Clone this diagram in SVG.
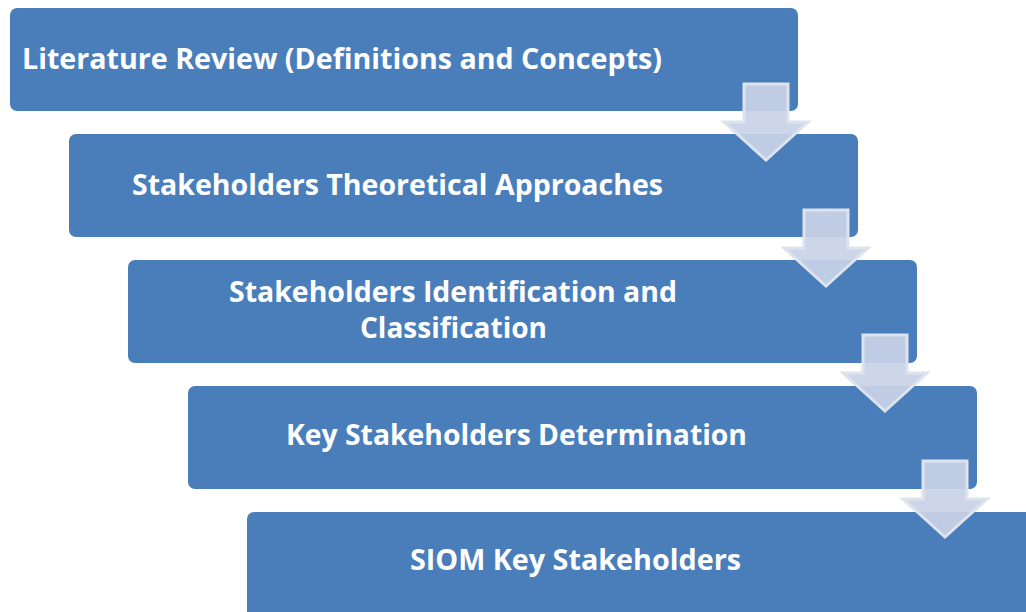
<svg xmlns="http://www.w3.org/2000/svg" width="1026" height="612" viewBox="0 0 1026 612">
<style>
.box{fill:#4a7ebb;}
.lbl{font-family:"Open Sans","Noto Sans","Liberation Sans",sans-serif;font-weight:bold;font-size:29px;fill:#ffffff;}
.arr{fill:#c9d3e6;fill-opacity:0.92;stroke:#dde3ee;stroke-width:3;stroke-linejoin:miter;}
</style>
<rect width="1026" height="612" fill="#ffffff"/>
<g id="node1"><rect class="box" x="10" y="8" width="788" height="103" rx="7"/>
<text class="lbl" x="22" y="69" textLength="640" lengthAdjust="spacingAndGlyphs">Literature Review (Definitions and Concepts)</text></g>
<g id="node2"><rect class="box" x="69" y="134" width="789" height="103" rx="7"/>
<text class="lbl" x="132" y="195" textLength="531" lengthAdjust="spacingAndGlyphs">Stakeholders Theoretical Approaches</text></g>
<g id="node3"><rect class="box" x="128" y="260" width="789" height="103" rx="7"/>
<text class="lbl" x="229" y="302" textLength="448" lengthAdjust="spacingAndGlyphs">Stakeholders Identification and</text>
<text class="lbl" x="360" y="338" textLength="187" lengthAdjust="spacingAndGlyphs">Classification</text></g>
<g id="node4"><rect class="box" x="188" y="386" width="789" height="103" rx="7"/>
<text class="lbl" x="286" y="445" textLength="461" lengthAdjust="spacingAndGlyphs">Key Stakeholders Determination</text></g>
<g id="node5"><rect class="box" x="247" y="512" width="800" height="110" rx="7"/>
<text class="lbl" x="410" y="570" textLength="331" lengthAdjust="spacingAndGlyphs">SIOM Key Stakeholders</text></g>
<g id="connectors">
<path id="arrow1" class="arr" d="M744,84 H788 V122 H808 L766,160 L724,122 H744 Z"/>
<path id="arrow2" class="arr" d="M804,210 H848 V248 H868 L826,286 L784,248 H804 Z"/>
<path id="arrow3" class="arr" d="M863,335 H907 V373 H927 L885,411 L843,373 H863 Z"/>
<path id="arrow4" class="arr" d="M923,461 H967 V499 H987 L945,537 L903,499 H923 Z"/>
</g>
</svg>
